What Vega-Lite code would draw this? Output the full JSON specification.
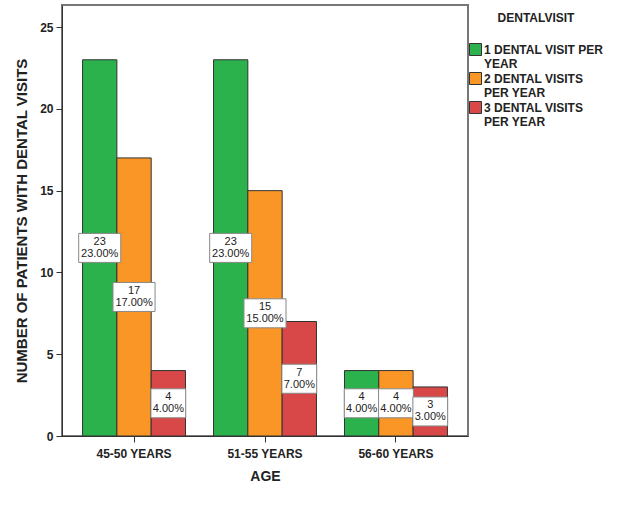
{
  "$schema": "https://vega.github.io/schema/vega-lite/v6.json",
  "autosize": {"type": "none"},
  "width": 406,
  "height": 431,
  "padding": {"left": 62, "top": 5, "right": 156, "bottom": 89},
  "background": "white",
  "config": {
    "font": "Liberation Sans",
    "view": {"stroke": "#777777", "strokeWidth": 2},
    "axis": {"domainColor": "#333333", "tickColor": "#333333", "labelColor": "#222222", "titleColor": "#222222", "labelFontWeight": "bold", "titleFontWeight": "bold", "grid": false}
  },
  "data": {
    "values": [
      {"age": "45-50 YEARS", "visit": "1 DENTAL VISIT PER YEAR", "count": 23},
      {"age": "45-50 YEARS", "visit": "2 DENTAL VISITS PER YEAR", "count": 17},
      {"age": "45-50 YEARS", "visit": "3 DENTAL VISITS PER YEAR", "count": 4},
      {"age": "51-55 YEARS", "visit": "1 DENTAL VISIT PER YEAR", "count": 23},
      {"age": "51-55 YEARS", "visit": "2 DENTAL VISITS PER YEAR", "count": 15},
      {"age": "51-55 YEARS", "visit": "3 DENTAL VISITS PER YEAR", "count": 7},
      {"age": "56-60 YEARS", "visit": "1 DENTAL VISIT PER YEAR", "count": 4},
      {"age": "56-60 YEARS", "visit": "2 DENTAL VISITS PER YEAR", "count": 4},
      {"age": "56-60 YEARS", "visit": "3 DENTAL VISITS PER YEAR", "count": 3}
    ]
  },
  "transform": [
    {"calculate": "datum.count / 2", "as": "mid"},
    {"calculate": "datum.count + '\\n' + format(datum.count, '.2f') + '%'", "as": "label"}
  ],
  "encoding": {
    "x": {
      "field": "age", "type": "nominal",
      "scale": {"paddingInner": 0.214, "paddingOuter": 0.157},
      "axis": {"labelAngle": 0, "labelFontSize": 12, "labelPadding": 6, "tickSize": 6, "title": "AGE", "titleFontSize": 14, "titlePadding": 10}
    },
    "xOffset": {"field": "visit", "type": "nominal", "scale": {"paddingInner": 0, "paddingOuter": 0}}
  },
  "layer": [
    {
      "mark": {"type": "bar", "stroke": "#333333", "strokeWidth": 1},
      "encoding": {
        "y": {
          "field": "count", "type": "quantitative",
          "scale": {"domain": [0, 26.35], "nice": false},
          "axis": {"values": [0, 5, 10, 15, 20, 25], "labelFontSize": 12, "tickSize": 6, "labelPadding": 3, "title": "NUMBER OF PATIENTS WITH DENTAL VISITS", "titleFontSize": 15, "titlePadding": 10}
        },
        "color": {
          "field": "visit", "type": "nominal",
          "scale": {"domain": ["1 DENTAL VISIT PER YEAR", "2 DENTAL VISITS PER YEAR", "3 DENTAL VISITS PER YEAR"], "range": ["#2bb24c", "#fa9626", "#d84848"]},
          "legend": {
            "title": "DENTALVISIT", "orient": "none", "legendX": 407, "legendY": 8,
            "titleFontSize": 12, "titleFontWeight": "bold", "titleColor": "#222222", "titleAnchor": "middle", "titlePadding": 18,
            "labelFontSize": 12, "labelFontWeight": "bold", "labelColor": "#222222", "labelOffset": 2, "labelLimit": 200, "labelLineHeight": 12,
            "symbolType": "square", "symbolSize": 144, "symbolStrokeColor": "#333333", "symbolStrokeWidth": 1, "symbolOpacity": 1,
            "rowPadding": 0,
            "labelExpr": "datum.label == '1 DENTAL VISIT PER YEAR' ? ['1 DENTAL VISIT PER', 'YEAR'] : datum.label == '2 DENTAL VISITS PER YEAR' ? ['2 DENTAL VISITS', 'PER YEAR'] : ['3 DENTAL VISITS', 'PER YEAR']"
          }
        }
      }
    },
    {
      "mark": {"type": "point", "filled": true, "fill": "white", "opacity": 1, "stroke": "#888888", "strokeWidth": 1},
      "encoding": {
        "y": {"field": "mid", "type": "quantitative"},
        "size": {"value": 841},
        "shape": {
          "condition": {"test": "datum.count >= 10", "value": "M -1.45 -1 L 1.45 -1 L 1.45 1 L -1.45 1 Z"},
          "value": "M -1.2 -1 L 1.2 -1 L 1.2 1 L -1.2 1 Z"
        }
      }
    },
    {
      "mark": {"type": "text", "lineBreak": "\n", "fontSize": 11, "color": "#222222", "baseline": "middle", "align": "center", "lineHeight": 12, "dy": -6},
      "encoding": {
        "y": {"field": "mid", "type": "quantitative"},
        "text": {"field": "label"}
      }
    }
  ]
}
